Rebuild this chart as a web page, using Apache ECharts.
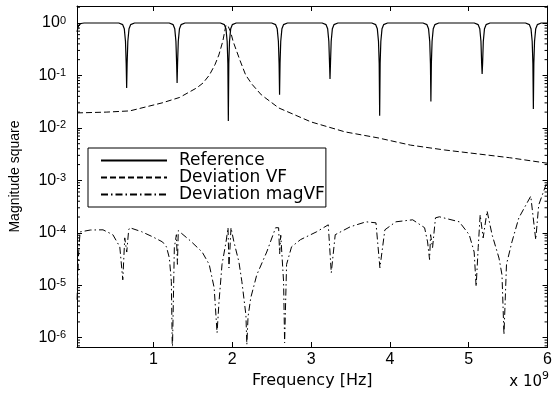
<!DOCTYPE html>
<html>
<head>
<meta charset="utf-8">
<script src="https://cdn.jsdelivr.net/npm/echarts@6/dist/echarts.min.js"></script>
<style>
html, body { margin: 0; padding: 0; background: #fff; }
#chart { width: 555px; height: 394px; }
</style>
</head>
<body>
<div id="chart"></div>
<script>
// frequency in units of 1e9 Hz, magnitude square (linear)
var seriesNames = ['Reference', 'Deviation VF', 'Deviation magVF'];
var xMin = 0.03, xMax = 6;
var yMin = 6.65e-7, yMax = 2.11;
var yMinorTicks = [7e-7, 8e-7, 9e-7,
  2e-6, 3e-6, 4e-6, 5e-6, 6e-6, 7e-6, 8e-6, 9e-6,
  2e-5, 3e-5, 4e-5, 5e-5, 6e-5, 7e-5, 8e-5, 9e-5,
  2e-4, 3e-4, 4e-4, 5e-4, 6e-4, 7e-4, 8e-4, 9e-4,
  2e-3, 3e-3, 4e-3, 5e-3, 6e-3, 7e-3, 8e-3, 9e-3,
  2e-2, 3e-2, 4e-2, 5e-2, 6e-2, 7e-2, 8e-2, 9e-2,
  0.2, 0.3, 0.4, 0.5, 0.6, 0.7, 0.8, 0.9, 2];

var refData = [
  [0.03,0.68],[0.05,0.9],[0.08,0.98],[0.12,1.0],
  [0.56,1.0],[0.61,0.93],[0.63,0.78],[0.645,0.45],[0.654,0.17],[0.66,0.058],[0.666,0.17],[0.675,0.45],[0.69,0.78],[0.71,0.93],[0.76,1.0],
  [1.20,1.0],[1.25,0.93],[1.27,0.78],[1.285,0.45],[1.294,0.17],[1.30,0.072],[1.306,0.17],[1.315,0.45],[1.33,0.78],[1.35,0.93],[1.40,1.0],
  [1.85,1.0],[1.90,0.93],[1.92,0.78],[1.935,0.45],[1.944,0.17],[1.95,0.0135],[1.956,0.17],[1.965,0.45],[1.98,0.78],[2.00,0.93],[2.05,1.0],
  [2.50,1.0],[2.55,0.93],[2.57,0.78],[2.585,0.45],[2.594,0.17],[2.60,0.043],[2.606,0.17],[2.615,0.45],[2.63,0.78],[2.65,0.93],[2.70,1.0],
  [3.14,1.0],[3.19,0.93],[3.21,0.78],[3.225,0.45],[3.234,0.17],[3.24,0.086],[3.246,0.17],[3.255,0.45],[3.27,0.78],[3.29,0.93],[3.34,1.0],
  [3.77,1.0],[3.82,0.93],[3.84,0.78],[3.855,0.45],[3.864,0.17],[3.87,0.017],[3.876,0.17],[3.885,0.45],[3.90,0.78],[3.92,0.93],[3.97,1.0],
  [4.42,1.0],[4.47,0.93],[4.49,0.78],[4.505,0.45],[4.514,0.17],[4.52,0.032],[4.526,0.17],[4.535,0.45],[4.55,0.78],[4.57,0.93],[4.62,1.0],
  [5.07,1.0],[5.12,0.93],[5.14,0.78],[5.155,0.45],[5.164,0.17],[5.17,0.107],[5.176,0.17],[5.185,0.45],[5.20,0.78],[5.22,0.93],[5.27,1.0],
  [5.72,1.0],[5.77,0.93],[5.79,0.78],[5.805,0.45],[5.814,0.17],[5.82,0.023],[5.826,0.17],[5.835,0.45],[5.85,0.78],[5.87,0.93],[5.92,1.0],
  [6.0,1.0]
];

var vfData = [
  [0.03,0.0193],[0.4,0.0200],[0.70,0.0211],[1.11,0.030],[1.33,0.038],[1.55,0.058],[1.63,0.072],
  [1.71,0.102],[1.78,0.16],[1.83,0.246],[1.88,0.45],[1.92,0.92],[1.95,0.85],[1.98,0.67],
  [2.01,0.45],[2.05,0.306],[2.10,0.19],[2.17,0.102],[2.25,0.068],[2.37,0.0425],[2.59,0.024],
  [3.00,0.013],[3.43,0.0084],[3.85,0.00645],[4.26,0.0047],[4.69,0.0038],[5.11,0.0032],
  [5.52,0.0027],[6.0,0.00212]
];

var magData = [
  [0.031,5.3e-6],[0.05,4e-5],[0.069,1.04e-4],[0.2,1.13e-4],[0.36,1.14e-4],[0.485,9.2e-5],
  [0.573,5.4e-5],[0.611,1.27e-5],[0.636,8.0e-5],[0.661,4.3e-5],[0.686,1.14e-4],[0.699,1.25e-4],
  [0.85,1.05e-4],[0.989,8.4e-5],[1.115,6.7e-5],[1.165,5.4e-5],[1.202,3.3e-5],[1.227,1.17e-5],
  [1.24,5e-7],[1.265,5.2e-5],[1.291,9.2e-5],[1.304,2.5e-5],[1.315,1.1e-4],[1.329,1.14e-4],
  [1.47,7e-5],[1.618,4.3e-5],[1.707,2.5e-5],[1.77,9e-6],[1.807,1.24e-6],[1.832,4.9e-6],
  [1.87,2.5e-5],[1.921,6.7e-5],[1.946,1.25e-4],[1.958,2.15e-5],[1.984,1.25e-4],[2.021,6.7e-5],
  [2.084,2.8e-5],[2.122,1.17e-5],[2.173,2.7e-6],[2.185,7.4e-7],[2.2,2.5e-6],[2.235,5.8e-6],
  [2.311,1.58e-5],[2.437,4.3e-5],[2.55,1.25e-4],[2.588,1.25e-4],[2.601,4e-5],[2.615,9e-5],
  [2.651,1.17e-5],[2.664,8e-7],[2.689,2.5e-5],[2.752,5.4e-5],[2.865,7.4e-5],[3.067,1.04e-4],
  [3.218,1.42e-4],[3.256,1.73e-5],[3.306,9.2e-5],[3.495,1.3e-4],[3.697,1.62e-4],[3.823,1.55e-4],
  [3.873,2.15e-5],[3.936,1.14e-4],[4.075,1.62e-4],[4.289,1.77e-4],[4.44,1.25e-4],[4.478,6.7e-5],
  [4.503,3.1e-5],[4.516,9.2e-5],[4.541,5.2e-5],[4.578,1.93e-4],[4.628,2.02e-4],[4.88,1.62e-4],
  [5.006,9.2e-5],[5.069,4.3e-5],[5.094,9.4e-6],[5.12,5.2e-5],[5.145,2.2e-4],[5.183,8e-5],
  [5.233,2.6e-4],[5.296,9.2e-5],[5.384,3.3e-5],[5.422,1.58e-5],[5.447,1.14e-6],[5.479,2.5e-5],
  [5.548,6.7e-5],[5.636,1.93e-4],[5.787,5e-4],[5.85,7.4e-5],[5.888,3.4e-4],[6.0,1.0e-3]
];

var chart = echarts.init(document.getElementById('chart'), null, { renderer: 'canvas' });
var font = 'Liberation Sans';
var wideFont = 'DejaVu Sans';

var expLabel = function (v) {
  var e = Math.round(Math.log10(v));
  return '{b|10}{e|' + e + '}';
};

var option = {
  animation: false,
  backgroundColor: '#fff',
  textStyle: { fontFamily: font },
  grid: { left: 77, top: 6, right: 3, bottom: 47 },
  legend: {
    data: seriesNames,
    orient: 'vertical',
    left: 88, top: 148,
    padding: [4, 1, 4, 12],
    itemWidth: 66, itemHeight: 10, itemGap: 0,
    itemStyle: { opacity: 0 },
    backgroundColor: '#fff',
    borderColor: '#000', borderWidth: 1, borderRadius: 0,
    textStyle: { fontFamily: wideFont, fontSize: 17, color: '#000', lineHeight: 16.5, padding: [0, 0, 0, 7] }
  },
  xAxis: [{
    type: 'value', min: xMin, max: xMax, splitNumber: 6,
    name: 'Frequency [Hz]', nameLocation: 'middle', nameGap: 22,
    nameTextStyle: { fontFamily: wideFont, fontSize: 16, color: '#000' },
    axisLine: { lineStyle: { color: '#000', width: 1 } },
    axisTick: { inside: true, length: 5, lineStyle: { color: '#000' } },
    axisLabel: { showMinLabel: false, fontFamily: font, fontSize: 16, color: '#000', margin: 5,
      formatter: function (v) { return Math.abs(v - Math.round(v)) < 1e-6 ? String(Math.round(v)) : ''; } },
    splitLine: { show: false }
  }, {
    type: 'value', min: xMin, max: xMax, splitNumber: 6, position: 'top',
    axisLine: { lineStyle: { color: '#000', width: 1 } },
    axisTick: { inside: true, length: 5, lineStyle: { color: '#000' } },
    axisLabel: { show: false }, splitLine: { show: false }
  }],
  yAxis: [{
    type: 'log', logBase: 10, min: yMin, max: yMax,
    name: 'Magnitude square', nameLocation: 'middle', nameGap: 55,
    nameTextStyle: { fontFamily: font, fontSize: 14, color: '#000' },
    axisLine: { lineStyle: { color: '#000', width: 1 } },
    axisTick: { inside: true, length: 5, lineStyle: { color: '#000' } },
    axisLabel: {
      showMinLabel: false, showMaxLabel: false, margin: 11, color: '#000',
      formatter: expLabel,
      rich: {
        b: { fontFamily: font, fontSize: 16, color: '#000', verticalAlign: 'bottom', lineHeight: 16 },
        e: { fontFamily: font, fontSize: 11, color: '#000', verticalAlign: 'top', lineHeight: 10, padding: [0, 0, 6, 0] }
      }
    },
    splitLine: { show: false }
  }, {
    type: 'log', logBase: 10, min: yMin, max: yMax, position: 'right',
    axisLine: { lineStyle: { color: '#000', width: 1 } },
    axisTick: { inside: true, length: 5, lineStyle: { color: '#000' } },
    axisLabel: { show: false }, splitLine: { show: false }
  }],
  graphic: [{
    type: 'text', right: 6, bottom: 4,
    style: {
      text: '{a|x 10}{s|9}',
      rich: {
        a: { fontFamily: wideFont, fontSize: 15, fill: '#000', verticalAlign: 'bottom' },
        s: { fontFamily: wideFont, fontSize: 11, fill: '#000', verticalAlign: 'top', padding: [0, 0, 8, 0] }
      }
    }
  }],
  series: [{
    name: seriesNames[0], type: 'line', data: refData, showSymbol: false, symbol: 'none',
    lineStyle: { color: '#000', width: 1.2, type: 'solid' }, itemStyle: { color: '#000' }, z: 3
  }, {
    name: seriesNames[1], type: 'line', data: vfData, showSymbol: false, symbol: 'none',
    lineStyle: { color: '#000', width: 1, type: [6, 3] }, itemStyle: { color: '#000' }, z: 2
  }, {
    name: seriesNames[2], type: 'line', data: magData, showSymbol: false, symbol: 'none',
    lineStyle: { color: '#000', width: 1, type: [7, 3, 1.5, 3] }, itemStyle: { color: '#000' }, z: 2
  }, {
    // minor ticks of the log axis on both sides
    type: 'custom', silent: true, clip: false,
    data: yMinorTicks.map(function (v) { return [xMin, v]; }),
    renderItem: function (params, api) {
      var v = api.value(1);
      var pl = api.coord([xMin, v]);
      var pr = api.coord([xMax, v]);
      return {
        type: 'group', children: [
          { type: 'line', shape: { x1: pl[0], y1: pl[1], x2: pl[0] + 3, y2: pl[1] }, style: { stroke: '#000', lineWidth: 1 } },
          { type: 'line', shape: { x1: pr[0], y1: pr[1], x2: pr[0] - 3, y2: pr[1] }, style: { stroke: '#000', lineWidth: 1 } }
        ]
      };
    }
  }]
};

chart.setOption(option);
</script>
</body>
</html>
